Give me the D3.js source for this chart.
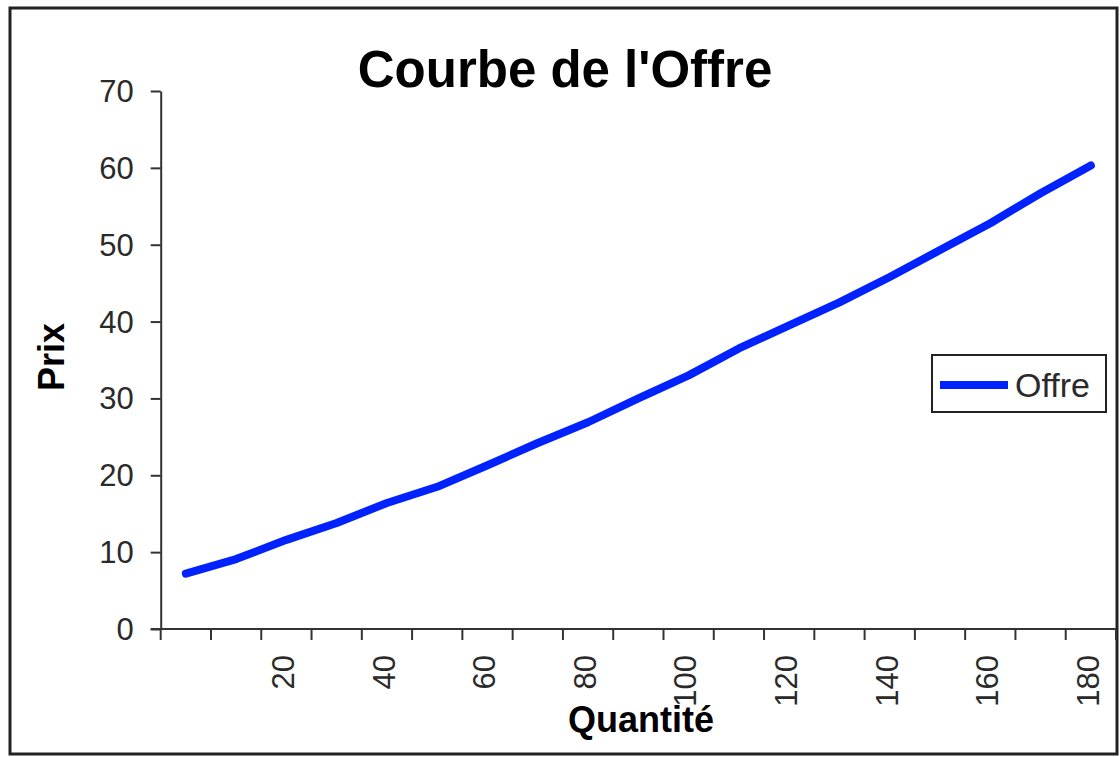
<!DOCTYPE html>
<html>
<head>
<meta charset="utf-8">
<script src="https://cdn.jsdelivr.net/npm/d3@7"></script>
<style>
  body { margin: 0; background: #fff; }
  svg { display: block; font-family: "Liberation Sans", Arial, sans-serif; }
  .axis path, .axis line { stroke: #333; stroke-width: 2; }
  .axis text { fill: #2a2a2a; font-size: 31px; }
</style>
</head>
<body>
<div id="chart"></div>
<script>
// donnees
var quantites = [0, 10, 20, 30, 40, 50, 60, 70, 80, 90, 100, 110, 120, 130, 140, 150, 160, 170, 180];
var prix = [7.2, 9.1, 11.6, 13.8, 16.4, 18.5, 21.3, 24.2, 26.9, 30.0, 33.0, 36.5, 39.5, 42.5, 45.8, 49.3, 52.8, 56.7, 60.3];
var xTickLabels = [20, 40, 60, 80, 100, 120, 140, 160, 180];
var yTicks = [0, 10, 20, 30, 40, 50, 60, 70];
var serie = 'Offre';

var width = 1120, height = 757;
var margin = {top: 91, bottom: 128, left: 160.7, right: 4};

var svg = d3.select('#chart').append('svg')
	.attr('width', width)
	.attr('height', height)

// cadre du graphique
svg.append('rect')
	.attr('x', 10).attr('y', 8)
	.attr('width', 1107).attr('height', 746)
	.attr('fill', '#fff')
	.attr('stroke', '#222')
	.attr('stroke-width', 3)

var x = d3.scaleBand()
	.domain(quantites)
	.range([margin.left, width - margin.right])
	.padding(0)

var y = d3.scaleLinear()
	.domain([0, 70])
	.range([height - margin.bottom - 0, margin.top])

var bw = x.bandwidth()

// axe Y
var yAxis = svg.append('g').attr('class', 'axis')
	.attr('transform', 'translate(' + margin.left + ',0)')
	.call(d3.axisLeft(y).tickValues(yTicks).tickSize(10).tickSizeOuter(0).tickPadding(17))
yAxis.selectAll('text').attr('dy', '0.34em')

// axe X (categories, graduations entre les categories)
var xAxis = svg.append('g').attr('class', 'axis')
	.attr('transform', 'translate(0,' + y(0) + ')')
	.call(d3.axisBottom(x).tickSize(0).tickSizeOuter(0)
		.tickFormat(function(d) { return xTickLabels.indexOf(d) >= 0 ? d : ''; }))
xAxis.select('.domain').attr('d', 'M' + (margin.left - 10) + ',0H' + (width - margin.right))
xAxis.selectAll('.tick text')
	.attr('transform', 'rotate(-90)')
	.attr('text-anchor', 'end')
	.attr('x', -26)
	.attr('y', -3)
	.attr('dy', '0.35em')

var edges = quantites.map(function(d) { return x(d); }).concat([x.range()[1]])
xAxis.selectAll('line.edge')
	.data(edges)
	.enter().append('line').attr('class', 'edge')
	.attr('x1', function(d) { return d; })
	.attr('x2', function(d) { return d; })
	.attr('y1', 0).attr('y2', 11)

// courbe
var line = d3.line()
	.x(function(d, i) { return x(quantites[i]) + bw / 2; })
	.y(function(d) { return y(d); })

svg.append('path')
	.datum(prix)
	.attr('d', line)
	.attr('fill', 'none')
	.attr('stroke', '#0022ff')
	.attr('stroke-width', 8)
	.attr('stroke-linecap', 'round')
	.attr('stroke-linejoin', 'round')

// titres
svg.append('text')
	.attr('x', 565).attr('y', 87)
	.attr('text-anchor', 'middle')
	.attr('font-size', 51).attr('font-weight', 'bold')
	.text("Courbe de l'Offre")

svg.append('text')
	.attr('transform', 'translate(64,357) rotate(-90)')
	.attr('text-anchor', 'middle')
	.attr('font-size', 36).attr('font-weight', 'bold')
	.text('Prix')

svg.append('text')
	.attr('x', 641).attr('y', 732)
	.attr('text-anchor', 'middle')
	.attr('font-size', 36).attr('font-weight', 'bold')
	.text('Quantité')

// legende
var legend = svg.append('g').attr('transform', 'translate(932,355)')
legend.append('rect')
	.attr('width', 174).attr('height', 57)
	.attr('fill', '#fff').attr('stroke', '#222').attr('stroke-width', 2)
legend.append('line')
	.attr('x1', 8).attr('x2', 76).attr('y1', 30).attr('y2', 30)
	.attr('stroke', '#0022ff').attr('stroke-width', 8)
legend.append('text')
	.attr('x', 83).attr('y', 42)
	.attr('font-size', 34).attr('fill', '#2a2a2a')
	.text(serie)
</script>
</body>
</html>
